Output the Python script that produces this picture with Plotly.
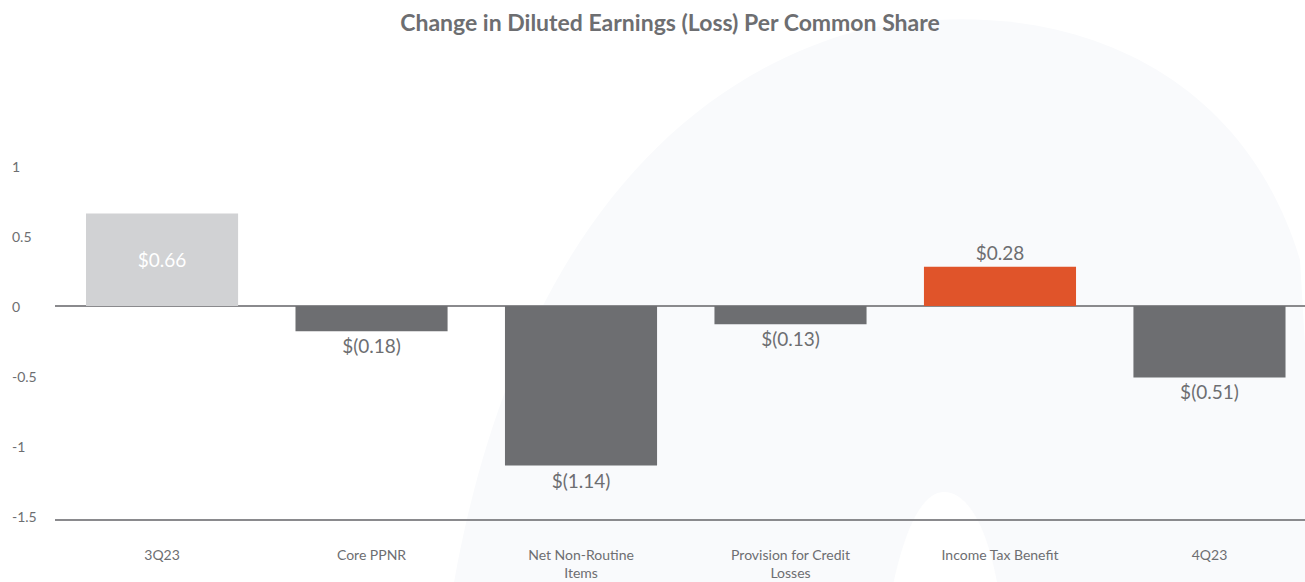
import plotly.graph_objects as go

# Per-share change components (USD)
categories = ["3Q23", "Core PPNR", "Net Non-Routine<br>Items",
              "Provision for Credit<br>Losses", "Income Tax Benefit", "4Q23"]
values = [0.66, -0.18, -1.14, -0.13, 0.28, -0.51]
bar_colors = ["#d1d2d4", "#6d6e71", "#6d6e71", "#6d6e71", "#e0542a", "#6d6e71"]
y_ticks = [1, 0.5, 0, -0.5, -1, -1.5]
y_tick_text = ["1", "0.5", "0", "-0.5", "-1", "-1.5"]

W, H = 1305, 582
M_L, M_R, M_T, M_B = 55, 0, 140, 63
PX_PER_UNIT = 140.0
Y_ZERO_PX = 306
y_lo = -(H - M_B - Y_ZERO_PX) / PX_PER_UNIT
y_hi = (Y_ZERO_PX - M_T) / PX_PER_UNIT

GRAY = "#6d6e71"
FONT = "Lato"


def money(v):
    return f"${v:.2f}" if v >= 0 else f"$({abs(v):.2f})"


labels = [money(v) for v in values]
positions = ["inside" if v > 0.5 else "outside" for v in values]

fig = go.Figure(go.Bar(
    x=list(range(len(categories))),
    y=values,
    width=0.726,
    marker=dict(color=bar_colors, line=dict(width=0)),
    text=labels,
    textposition=positions,
    insidetextanchor="middle",
    insidetextfont=dict(color="white", size=19, family=FONT),
    outsidetextfont=dict(color=GRAY, size=19, family=FONT),
    textangle=0,
    constraintext="none",
    cliponaxis=False,
    hoverinfo="skip",
))


# Decorative background arch, described in page pixels
pw, ph = W - M_L - M_R, H - M_T - M_B


def px(x, y):
    return f"{(x - M_L) / pw:.4f},{(H - M_B - y) / ph:.4f}"


outer = (f"M {px(451, 600)} "
         f"C {px(500, 300)} {px(640, 90)} {px(860, 30)} "
         f"C {px(1050, -10)} {px(1240, 60)} {px(1300, 260)} "
         f"L {px(1320, 600)} Z")
inner = (f"M {px(890, 600)} C {px(905, 520)} {px(925, 492)} {px(944, 492)} "
         f"C {px(965, 492)} {px(988, 520)} {px(1000, 600)} Z")

shapes = [
    dict(type="path", xref="paper", yref="paper", path=outer,
         fillcolor="#f9fafc", line=dict(width=0), layer="below"),
    dict(type="path", xref="paper", yref="paper", path=inner,
         fillcolor="#ffffff", line=dict(width=0), layer="below"),
]

annotations = [
    dict(text=t, x=(10 - M_L) / pw, xref="paper", xanchor="left",
         y=v, yref="y", yanchor="middle", showarrow=False,
         font=dict(family=FONT, size=14, color=GRAY))
    for v, t in zip(y_ticks, y_tick_text)
]

fig.update_layout(
    width=W, height=H,
    margin=dict(l=M_L, r=M_R, t=M_T, b=M_B),
    paper_bgcolor="white",
    plot_bgcolor="rgba(0,0,0,0)",
    showlegend=False,
    title=dict(text="<b>Change in Diluted Earnings (Loss) Per Common Share</b>",
               x=670 / W, xanchor="center", y=1 - 23 / H, yanchor="middle",
               xref="container", yref="container",
               font=dict(family=FONT, size=23, color=GRAY)),
    shapes=shapes,
    annotations=annotations,
    xaxis=dict(
        range=[-0.511, 5.456],
        tickmode="array",
        tickvals=list(range(len(categories))),
        ticktext=categories,
        tickfont=dict(family=FONT, size=14, color=GRAY),
        ticks="",
        ticklabelstandoff=22,
        showgrid=False,
        zeroline=False,
        showline=True,
        linecolor="#8a8a8d",
        linewidth=1.5,
    ),
    yaxis=dict(
        range=[y_lo, y_hi],
        showticklabels=False,
        showgrid=False,
        zeroline=True,
        zerolinecolor="#8a8a8d",
        zerolinewidth=1.5,
        showline=False,
    ),
)

fig.write_html("out.html")
